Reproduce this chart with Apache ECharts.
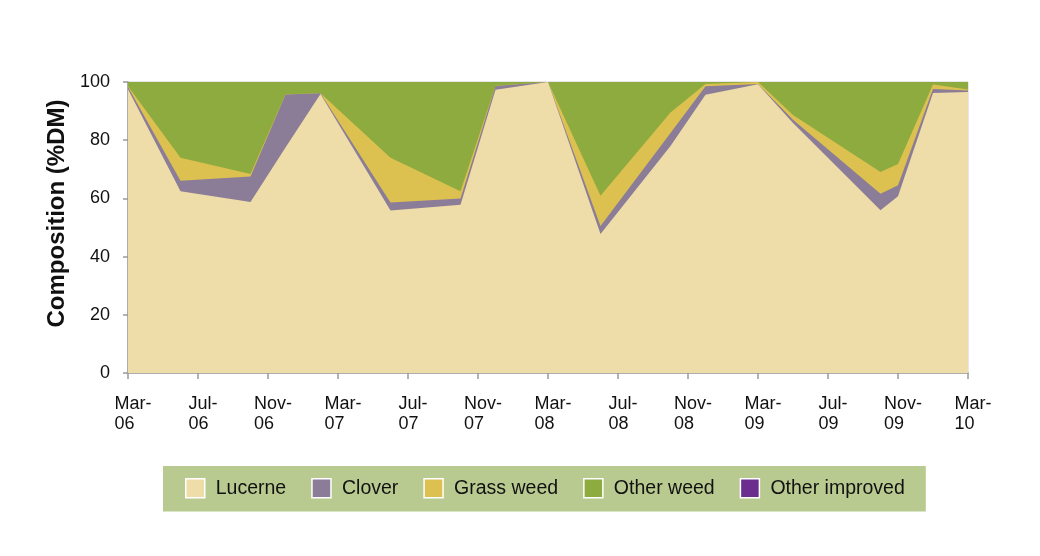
<!DOCTYPE html>
<html>
<head>
<meta charset="utf-8">
<script src="https://cdn.jsdelivr.net/npm/echarts@6/dist/echarts.min.js"></script>
<style>
html,body{margin:0;padding:0;background:#fff;}
#chart{width:1040px;height:556px;}
</style>
</head>
<body>
<div id="chart"></div>
<script>
// Sampling dates (year-month)
const sampleDates = ['2006-03','2006-06','2006-10','2006-12','2007-02','2007-06','2007-10','2007-12','2008-03','2008-06','2008-10','2008-12','2009-03','2009-05','2009-10','2009-11','2010-01','2010-03'];
// Composition (%DM) per component
const lucerne       = [97.5, 62.5, 58.8, 77.5, 95.9, 55.8, 57.8, 97.3, 100, 47.8, 78.0, 95.6, 99.2, 85.9, 55.9, 60.7, 96.2, 96.6];
const clover        = [0.8, 3.6, 8.7, 18.2, 0.2, 2.8, 2.2, 1.3, 0, 2.7, 4.5, 2.9, 0.1, 1.1, 5.7, 3.8, 1.4, 0.5];
const grassWeed     = [0.2, 7.9, 0.9, 0.1, 0, 15.4, 2.5, 0.1, 0, 10.4, 7.0, 0.8, 0.7, 1.7, 7.5, 7.3, 1.5, 0.3];
const otherWeed     = [1.5, 26.0, 31.6, 4.2, 3.9, 26.0, 37.5, 1.3, 0, 39.1, 10.5, 0.7, 0, 11.3, 30.9, 28.2, 0.9, 2.6];
const otherImproved = [0, 0, 0, 0, 0, 0, 0, 0, 0, 0, 0, 0, 0, 0, 0, 0, 0, 0];
const seriesNames = ['Lucerne','Clover','Grass weed','Other weed','Other improved'];
const seriesColors = ['#EEDDA8','#8B7D98','#DDC150','#8DAB3F','#6B2E8F'];
// X tick labels every 4 months from Mar-06
const xTickLabels = ['Mar-\n06','Jul-\n06','Nov-\n06','Mar-\n07','Jul-\n07','Nov-\n07','Mar-\n08','Jul-\n08','Nov-\n08','Mar-\n09','Jul-\n09','Nov-\n09','Mar-\n10'];
const yTicks = [0, 20, 40, 60, 80, 100];

function monthIndex(s){
  const [y, m] = s.split('-').map(Number);
  return (y - 2006) * 12 + (m - 3);
}
const xs = sampleDates.map(monthIndex);
const allValues = [lucerne, clover, grassWeed, otherWeed, otherImproved];
// stacked (cumulative) tops, bottom component first
const cumulative = [];
allValues.forEach(function(arr, i){
  cumulative.push(arr.map(function(v, j){ return (i > 0 ? cumulative[i-1][j] : 0) + v; }));
});

const FONT = '"Liberation Sans", Arial, Helvetica, sans-serif';

const chart = echarts.init(document.getElementById('chart'), null, {renderer: 'canvas'});
chart.setOption({
  animation: false,
  color: seriesColors,
  textStyle: {fontFamily: FONT},
  grid: {
    left: 128, right: 72, top: 82, bottom: 183,
    show: true, borderColor: '#cfcfcf', borderWidth: 1, backgroundColor: 'transparent'
  },
  legend: {
    left: 163, top: 466,
    backgroundColor: '#B9CA90',
    padding: [12, 21, 13, 22],
    itemWidth: 19, itemHeight: 19, itemGap: 25,
    icon: 'rect',
    itemStyle: {borderColor: '#ffffff', borderWidth: 1.5},
    textStyle: {fontFamily: FONT, fontSize: 19.5, color: '#111', padding: [0, 0, 0, 6]},
    data: seriesNames
  },
  xAxis: {
    type: 'value',
    min: 0, max: 48, interval: 4,
    splitLine: {show: false},
    axisLine: {show: true, lineStyle: {color: '#9a9a9a', width: 1.5}},
    axisTick: {show: true, length: 6, lineStyle: {color: '#9a9a9a', width: 1.5}},
    axisLabel: {
      margin: 21,
      fontFamily: FONT, fontSize: 18, color: '#111', lineHeight: 20,
      padding: [0, 0, 0, 10],
      formatter: function(v){
        const lab = xTickLabels[Math.round(v / 4)] || '';
        return lab.split('\n').map(function(t){ return '{a|' + t + '}'; }).join('\n');
      },
      rich: {a: {align: 'left', fontFamily: FONT, fontSize: 18, color: '#111', lineHeight: 20}}
    }
  },
  yAxis: {
    type: 'value',
    min: 0, max: 100, interval: 20,
    name: 'Composition (%DM)',
    nameLocation: 'middle',
    nameRotate: 90,
    nameGap: 57,
    nameTextStyle: {fontFamily: FONT, fontSize: 24, fontWeight: 'bold', color: '#111', padding: [0, 0, 0, 28]},
    splitLine: {show: false},
    axisLine: {show: true, lineStyle: {color: '#9a9a9a', width: 1.5}},
    axisTick: {show: true, length: 5, lineStyle: {color: '#9a9a9a', width: 1.5}},
    axisLabel: {margin: 18, fontFamily: FONT, fontSize: 18, color: '#111',
      formatter: function(v){ return yTicks.indexOf(v) >= 0 ? String(v) : ''; }}
  },
  series: seriesNames.map(function(name, i){
    const hasArea = allValues[i].some(function(v){ return v > 0; });
    return {
      name: name,
      type: 'line',
      data: xs.map(function(x, j){ return [x, cumulative[i][j]]; }),
      showSymbol: false,
      symbol: 'none',
      lineStyle: {width: 0, color: seriesColors[i]},
      itemStyle: {color: seriesColors[i]},
      areaStyle: hasArea ? {color: seriesColors[i], opacity: 1} : null,
      emphasis: {disabled: true},
      silent: true,
      z: 10 - i
    };
  })
});
</script>
</body>
</html>
